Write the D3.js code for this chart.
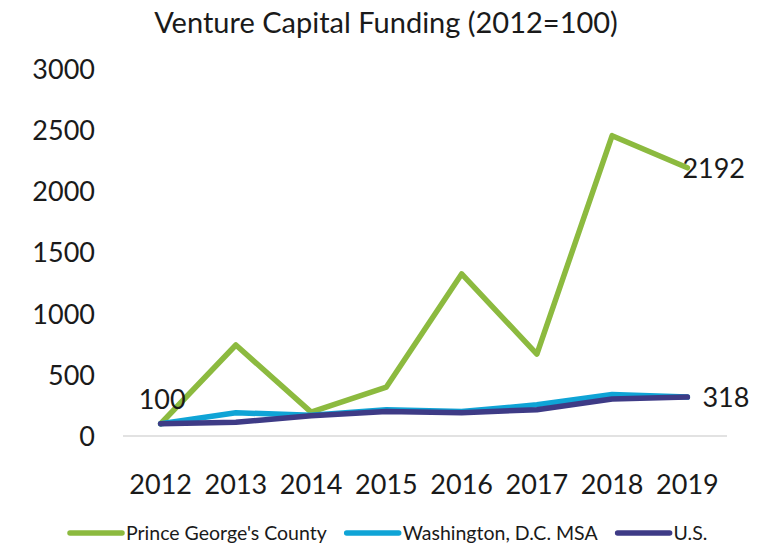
<!DOCTYPE html>
<html><head><meta charset="utf-8">
<script src="https://cdn.jsdelivr.net/npm/d3@7"></script>
<style>body{margin:0;background:#fff;} svg{display:block;}</style>
</head><body>
<svg id="c" width="766" height="544"></svg>
<script>
const years = ["2012","2013","2014","2015","2016","2017","2018","2019"];
const princeGeorges = [100, 744, 195, 400, 1325, 670, 2455, 2192];
const washington = [100, 190, 170, 215, 200, 255, 340, 318];
const us = [100, 112, 165, 200, 190, 215, 303, 318];
const yTicks = [0, 500, 1000, 1500, 2000, 2500, 3000];
const seriesNames = ["Prince George's County", "Washington, D.C. MSA", "U.S."];
const seriesColors = ["#8cba3f", "#0fa4d6", "#3e3b86"];
const title = "Venture Capital Funding (2012=100)";

const font = "Lato, 'Open Sans', sans-serif";
const svg = d3.select("#c");
const x = d3.scaleBand().domain(years).range([123, 725]).padding(0);
const cx = d => x(d) + x.bandwidth() / 2;
const y = d3.scaleLinear().domain([0, 3000]).range([436, 69]);

svg.append("text").attr("x", 386).attr("y", 33).attr("text-anchor", "middle")
  .attr("font-family", font).attr("font-size", 29).attr("fill", "#1a1a1a").text(title);

// baseline
svg.append("line").attr("x1", 123).attr("x2", 727).attr("y1", y(0)).attr("y2", y(0))
  .attr("stroke", "#d9d9d9").attr("stroke-width", 1.5);

// y axis
const yAxis = d3.axisLeft(y).tickValues(yTicks).tickFormat(d3.format("d")).tickSize(0).tickPadding(0);
const gy = svg.append("g").attr("transform", "translate(95,0)").call(yAxis);
gy.select(".domain").remove();
gy.selectAll("text").attr("font-family", font).attr("font-size", 27).attr("fill", "#1a1a1a").attr("dy", "0.35em");

// x axis
const xAxis = d3.axisBottom(x).tickSize(0).tickPadding(0);
const gx = svg.append("g").attr("transform", "translate(0,475)").call(xAxis);
gx.select(".domain").remove();
gx.selectAll("text").attr("font-family", font).attr("font-size", 27).attr("fill", "#1a1a1a").attr("dy", "0.71em");

const data = [princeGeorges, washington, us];
const line = d3.line().x((d, i) => cx(years[i])).y(d => y(d));
data.forEach((s, k) => {
  svg.append("path").datum(s).attr("d", line).attr("fill", "none")
    .attr("stroke", seriesColors[k]).attr("stroke-width", 5.5)
    .attr("stroke-linejoin", "round").attr("stroke-linecap", "round");
});

// data labels
svg.append("text").attr("x", cx("2012") + 25).attr("y", y(100) - 15).attr("text-anchor", "end")
  .attr("font-family", font).attr("font-size", 27).attr("fill", "#1a1a1a").text(princeGeorges[0]);
svg.append("text").attr("x", cx("2019") - 5).attr("y", y(princeGeorges[7]) + 10)
  .attr("font-family", font).attr("font-size", 27).attr("fill", "#1a1a1a").text(princeGeorges[7]);
svg.append("text").attr("x", cx("2019") + 15).attr("y", y(us[7])).attr("dy", "0.35em")
  .attr("font-family", font).attr("font-size", 27).attr("fill", "#1a1a1a").text(us[7]);

// legend
const lg = svg.append("g");
let lx = 68;
const ly = 533;
seriesNames.forEach((n, k) => {
  lg.append("line").attr("x1", lx + 2).attr("x2", lx + 54).attr("y1", ly).attr("y2", ly)
    .attr("stroke", seriesColors[k]).attr("stroke-width", 5.5).attr("stroke-linecap", "round");
  const t = lg.append("text").attr("x", lx + 58).attr("y", ly).attr("dy", "0.35em")
    .attr("font-family", font).attr("font-size", 19.5).attr("fill", "#1a1a1a").text(n);
  lx += 58 + t.node().getComputedTextLength() + 18;
});
</script>
</body></html>
